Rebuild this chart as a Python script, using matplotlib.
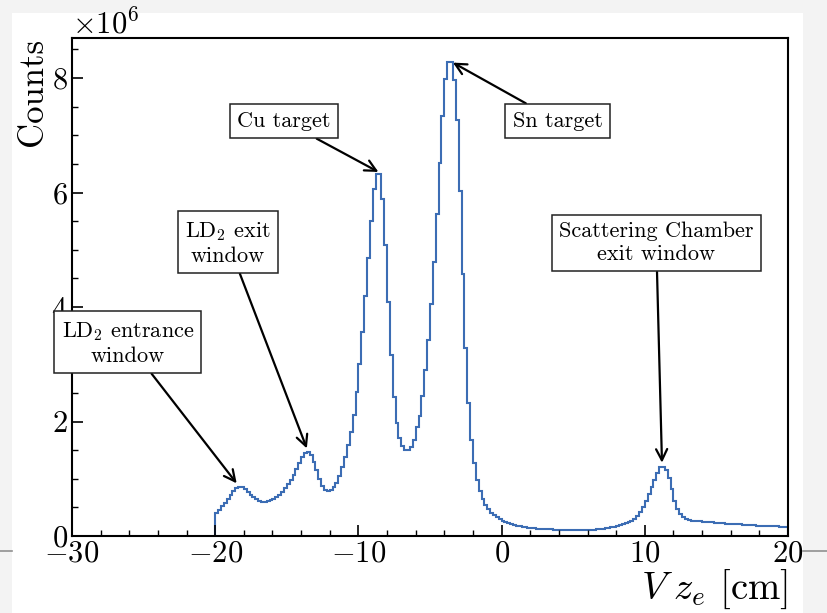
import numpy as np
import matplotlib.pyplot as plt
from matplotlib.patches import Rectangle
from matplotlib.lines import Line2D

plt.rcParams['font.family'] = 'serif'
plt.rcParams['font.serif'] = ['cmr10']
plt.rcParams['mathtext.fontset'] = 'cm'
plt.rcParams['axes.formatter.use_mathtext'] = True

# histogram of vertex z (cm), counts in units of 1e6, 0.2 cm bins from -20 to 20
bin_lo, bin_hi, bin_width = -20.0, 20.0, 0.2
counts_millions = [
    0.40, 0.46, 0.52, 0.58, 0.65, 0.72, 0.78, 0.83, 0.86, 0.85,
    0.82, 0.77, 0.72, 0.68, 0.64, 0.61, 0.60, 0.60, 0.61, 0.63,
    0.65, 0.68, 0.72, 0.77, 0.83, 0.90, 0.98, 1.07, 1.17, 1.28,
    1.38, 1.45, 1.47, 1.42, 1.30, 1.15, 1.00, 0.88, 0.81, 0.79,
    0.80, 0.85, 0.93, 1.05, 1.20, 1.38, 1.59, 1.82, 2.11, 2.51,
    3.00, 3.57, 4.19, 4.86, 5.50, 6.06, 6.33, 6.33, 5.88, 5.08,
    4.08, 3.16, 2.43, 1.97, 1.71, 1.57, 1.51, 1.50, 1.55, 1.68,
    1.90, 2.10, 2.45, 2.90, 3.42, 4.06, 4.79, 5.62, 6.51, 7.34,
    7.99, 8.28, 8.28, 7.97, 7.27, 6.03, 4.57, 3.28, 2.32, 1.68,
    1.27, 0.98, 0.78, 0.64, 0.54, 0.47, 0.41, 0.37, 0.33, 0.30,
    0.270, 0.245, 0.225, 0.205, 0.190, 0.178, 0.167, 0.158, 0.150, 0.143,
    0.137, 0.132, 0.128, 0.124, 0.121, 0.118, 0.116, 0.114, 0.112, 0.110,
    0.109, 0.108, 0.107, 0.106, 0.105, 0.105, 0.105, 0.105, 0.106, 0.107,
    0.108, 0.110, 0.113, 0.117, 0.122, 0.128, 0.135, 0.143, 0.152, 0.163,
    0.175, 0.190, 0.205, 0.220, 0.240, 0.270, 0.300, 0.350, 0.420, 0.510,
    0.62, 0.74, 0.86, 0.98, 1.10, 1.20, 1.21, 1.15, 1.02, 0.82,
    0.62, 0.47, 0.39, 0.33, 0.30, 0.28, 0.27, 0.265, 0.26, 0.255,
    0.250, 0.246, 0.242, 0.238, 0.234, 0.230, 0.226, 0.222, 0.218, 0.214,
    0.210, 0.207, 0.204, 0.201, 0.198, 0.195, 0.192, 0.189, 0.186, 0.183,
    0.180, 0.177, 0.175, 0.173, 0.171, 0.169, 0.167, 0.165, 0.163, 0.161,
]

# annotations: text, box centre (x, y in 1e6), arrow tip (x, y in 1e6)
ann_texts = ['LD$_2$ entrance\nwindow', 'LD$_2$ exit\nwindow', 'Cu target',
             'Sn target', 'Scattering Chamber\nexit window']
ann_box = [(-26.1, 3.37), (-19.1, 5.12), (-15.2, 7.25), (3.9, 7.25), (10.8, 5.12)]
ann_tip = [(-18.5, 0.92), (-13.6, 1.53), (-8.6, 6.36), (-3.4, 8.27), (11.2, 1.28)]

counts = np.array(counts_millions) * 1e6
edges = np.linspace(bin_lo, bin_hi, len(counts) + 1)

fig = plt.figure(figsize=(8.28, 6.13), dpi=100, facecolor='#f3f3f3')
fig.patches.append(Rectangle((12/828, 0), (803-12)/828, 1 - 13/613,
                             transform=fig.transFigure, facecolor='white',
                             edgecolor='none', zorder=-10))
for x0, x1 in [(0, 12), (803, 828)]:
    fig.lines.append(Line2D([x0/828, x1/828], [1 - 551/613]*2,
                            transform=fig.transFigure, color='#909090', lw=1.2))

ax = fig.add_axes([72/828, 1 - 536/613, (788-72)/828, (536-38)/613])
ax.stairs(counts, edges, baseline=0, color='#3c6db4', lw=1.5)

ax.set_xlim(-30, 20)
ax.set_ylim(0, 8.7e6)
ax.set_xticks([-30, -20, -10, 0, 10, 20])
ax.set_xticks(np.arange(-30, 21, 2), minor=True)
ax.set_yticks([0, 2e6, 4e6, 6e6, 8e6])
ax.set_yticks(np.arange(0, 8.7e6, 0.5e6), minor=True)
ax.tick_params(which='both', direction='in', top=False, right=False, labelsize=22)
ax.tick_params(which='major', length=8, width=1.2, pad=3)
ax.tick_params(which='minor', length=4, width=1.0)
ax.yaxis.get_offset_text().set_fontsize(22)
for s in ax.spines.values():
    s.set_linewidth(1.5)

ax.set_xlabel(r'$V\;z_e$ [cm]', fontsize=28, loc='right', labelpad=0)
ax.set_ylabel('Counts', fontsize=25, loc='top', labelpad=2)

for t, b, p in zip(ann_texts, ann_box, ann_tip):
    ax.annotate(t, xy=(p[0], p[1]*1e6), xytext=(b[0], b[1]*1e6),
                ha='center', va='center', fontsize=16, multialignment='center',
                linespacing=1.2,
                bbox=dict(boxstyle='square,pad=0.33', fc='white', ec='#222222', lw=1.1),
                arrowprops=dict(arrowstyle='->', color='black', lw=1.6,
                                mutation_scale=20, shrinkA=0, shrinkB=0))

fig.savefig('out.png', dpi=100)
